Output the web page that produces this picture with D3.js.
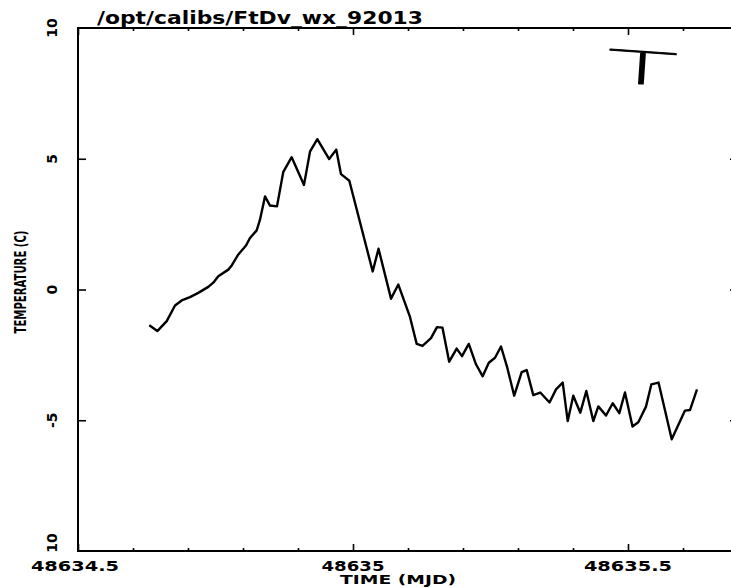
<!DOCTYPE html>
<html>
<head>
<meta charset="utf-8">
<script src="https://cdn.jsdelivr.net/npm/d3@7.9.0/dist/d3.min.js"></script>
<style>
  html, body { margin: 0; padding: 0; background: #fff; }
  svg { display: block; }
  text { fill: #000; }
</style>
</head>
<body>
<svg id="chart" width="731" height="588"></svg>
<script>
// --- DATA ---
const mjd = [
  48634.6296, 48634.6442, 48634.6613, 48634.6764, 48634.6885, 48634.7036, 48634.7187, 48634.7369,
  48634.7460, 48634.7551, 48634.7733, 48634.7795, 48634.7915, 48634.8055, 48634.8127, 48634.8249,
  48634.8309, 48634.8400, 48634.8491, 48634.8618, 48634.8733, 48634.8885, 48634.9109, 48634.9218,
  48634.9351, 48634.9567, 48634.9695, 48634.9782, 48634.9933, 48635.0358, 48635.0464, 48635.0691,
  48635.0824, 48635.1036, 48635.1158, 48635.1264, 48635.1418, 48635.1527, 48635.1627, 48635.1749,
  48635.1885, 48635.1982, 48635.2105, 48635.2236, 48635.2358, 48635.2469, 48635.2582, 48635.2691,
  48635.2805, 48635.2931, 48635.3067, 48635.3158, 48635.3278, 48635.3405, 48635.3573, 48635.3691,
  48635.3813, 48635.3904, 48635.4005, 48635.4133, 48635.4242, 48635.4369, 48635.4460, 48635.4600,
  48635.4722, 48635.4842, 48635.4945, 48635.5082, 48635.5187, 48635.5327, 48635.5424, 48635.5555,
  48635.5795, 48635.6036, 48635.6127, 48635.6255
];
const temperature = [
  -1.37, -1.59, -1.21, -0.61, -0.42, -0.29, -0.13, 0.10,
  0.26, 0.51, 0.76, 0.92, 1.34, 1.68, 1.97, 2.26,
  2.67, 3.56, 3.21, 3.18, 4.50, 5.06, 4.00, 5.27,
  5.75, 4.99, 5.35, 4.41, 4.16, 0.69, 1.56, -0.35,
  0.19, -1.05, -2.08, -2.16, -1.86, -1.44, -1.46, -2.76,
  -2.26, -2.55, -2.08, -2.86, -3.32, -2.80, -2.61, -2.18,
  -2.99, -4.06, -3.16, -3.08, -4.04, -3.94, -4.32, -3.82,
  -3.56, -5.03, -4.06, -4.71, -3.88, -5.03, -4.47, -4.82,
  -4.35, -4.73, -3.94, -5.24, -5.08, -4.48, -3.63, -3.56,
  -5.73, -4.63, -4.61, -3.82
];

const xDomain = [48634.5, 48635.7];
const yDomain = [-10, 10];
const xMajorTicks = [48634.5, 48635, 48635.5];
const xMajorLabels = ['48634.5', '48635', '48635.5'];
const xMinorTicks = [48634.6, 48634.7, 48634.8, 48634.9, 48635.1, 48635.2, 48635.3, 48635.4, 48635.6];
const yTicks = [5, 0, -5];
const yTickValues = [10, 5, 0, -5, -10];
const yTickLabels = ['10', '5', '0', '-5', '10'];

const title = '/opt/calibs/FtDv_wx_92013';
const xLabel = 'TIME (MJD)';
const yLabel = 'TEMPERATURE (C)';
const note = 'T';

// --- LAYOUT ---
const plotLeft = 78, plotRight = 738, plotTop = 28, plotBottom = 551;
const svg = d3.select('#chart');

const x = d3.scaleLinear().domain(xDomain).range([plotLeft, plotRight]);
const y = d3.scaleLinear().domain(yDomain).range([plotBottom, plotTop]);

// frame
svg.append('rect')
  .attr('x', plotLeft).attr('y', plotTop)
  .attr('width', plotRight - plotLeft).attr('height', plotBottom - plotTop)
  .attr('fill', 'none').attr('stroke', '#000').attr('stroke-width', 2);

// ticks, all pointing inward
function tickStyle(g) {
  g.select('.domain').remove();
  g.selectAll('.tick line').attr('stroke', '#000').attr('stroke-width', 1.6);
  g.selectAll('.tick text').remove();
}
svg.append('g').attr('transform', `translate(0,${plotBottom})`)
  .call(d3.axisBottom(x).tickValues(xMinorTicks).tickSize(-3)).call(tickStyle);
svg.append('g').attr('transform', `translate(0,${plotBottom})`)
  .call(d3.axisBottom(x).tickValues(xMajorTicks).tickSize(-7)).call(tickStyle);
svg.append('g').attr('transform', `translate(0,${plotTop})`)
  .call(d3.axisTop(x).tickValues(xMinorTicks).tickSize(-3)).call(tickStyle);
svg.append('g').attr('transform', `translate(0,${plotTop})`)
  .call(d3.axisTop(x).tickValues(xMajorTicks).tickSize(-7)).call(tickStyle);
svg.append('g').attr('transform', `translate(${plotLeft},0)`)
  .call(d3.axisLeft(y).tickValues(yTicks).tickSize(-8)).call(tickStyle);
svg.append('g').attr('transform', `translate(${plotRight},0)`)
  .call(d3.axisRight(y).tickValues(yTicks).tickSize(-8)).call(tickStyle);

// x tick labels
const labelFont = "'DejaVu Sans', sans-serif";
svg.append('g').selectAll('text')
  .data(xMajorTicks)
  .join('text')
  .attr('x', (d, i) => x(d) - (i === 0 ? 3 : 0))
  .attr('y', 571)
  .attr('text-anchor', 'middle')
  .attr('font-family', labelFont)
  .attr('font-weight', 'bold')
  .attr('font-size', 14)
  .attr('textLength', (d, i) => xMajorLabels[i].length * 12.6)
  .attr('lengthAdjust', 'spacingAndGlyphs')
  .text((d, i) => xMajorLabels[i]);

// y tick labels (rotated)
svg.append('g').selectAll('text')
  .data(yTickValues)
  .join('text')
  .attr('transform', (d, i) => {
    let cy = y(d);
    if (i === yTickValues.length - 1) cy -= 8;
    return `translate(57,${cy}) rotate(-90)`;
  })
  .attr('text-anchor', 'middle')
  .attr('font-family', labelFont)
  .attr('font-weight', 'bold')
  .attr('font-size', 14)
  .text((d, i) => yTickLabels[i]);

// axis titles
svg.append('text')
  .attr('x', 398).attr('y', 584)
  .attr('text-anchor', 'middle')
  .attr('font-family', labelFont)
  .attr('font-weight', 'bold')
  .attr('font-size', 13)
  .attr('textLength', 116)
  .attr('lengthAdjust', 'spacingAndGlyphs')
  .text(xLabel);

svg.append('text')
  .attr('transform', 'translate(26,282) rotate(-90)')
  .attr('text-anchor', 'middle')
  .attr('font-family', "'Liberation Sans Narrow', 'DejaVu Sans Condensed', sans-serif")
  .attr('font-weight', 'bold')
  .attr('font-size', 15)
  .attr('textLength', 103)
  .attr('lengthAdjust', 'spacingAndGlyphs')
  .text(yLabel);

// title
svg.append('text')
  .attr('x', 97).attr('y', 24)
  .attr('font-family', labelFont)
  .attr('font-weight', 'bold')
  .attr('font-size', 17)
  .attr('textLength', 326)
  .attr('lengthAdjust', 'spacingAndGlyphs')
  .text(title);

// hand-written note
svg.append('text')
  .attr('transform', 'translate(641,84) rotate(4) scale(2.6,1)')
  .attr('text-anchor', 'middle')
  .attr('font-family', "Roboto, 'DejaVu Sans', sans-serif")
  .attr('font-weight', 100)
  .attr('font-size', 46)
  .attr('stroke', '#000')
  .attr('stroke-width', 2)
  .attr('stroke-linejoin', 'round')
  .attr('vector-effect', 'non-scaling-stroke')
  .text(note);

// data line
const points = mjd.map((t, i) => [t, temperature[i]]);
svg.append('path')
  .datum(points)
  .attr('fill', 'none')
  .attr('stroke', '#000')
  .attr('stroke-width', 2.4)
  .attr('stroke-linejoin', 'round')
  .attr('d', d3.line().x(d => x(d[0])).y(d => y(d[1])));
</script>
</body>
</html>
